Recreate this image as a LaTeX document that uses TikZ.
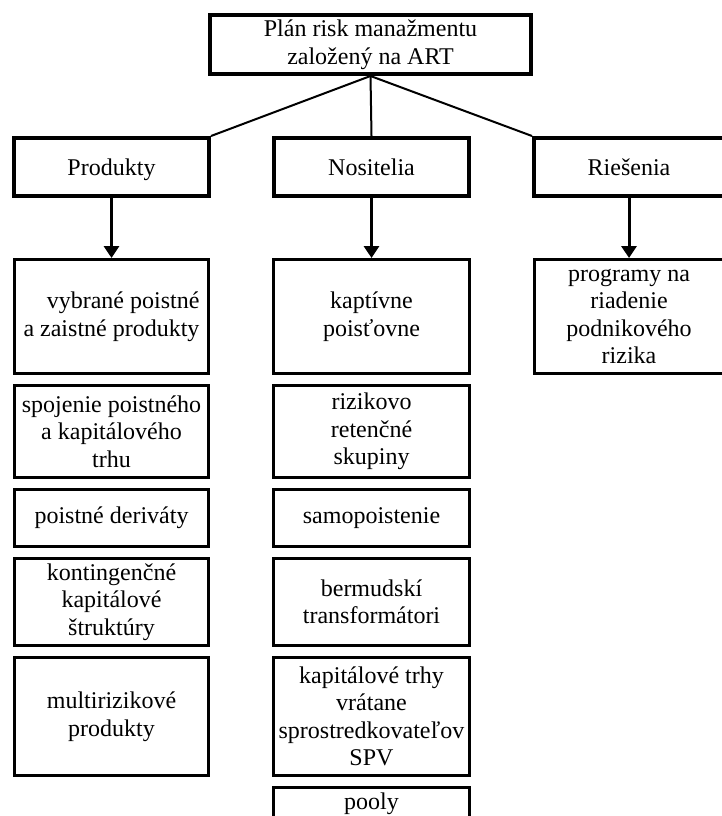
\documentclass[tikz,border=0pt]{standalone}
\usepackage{fontspec}
\setmainfont{Liberation Serif}
\usepackage{tikz}
\usetikzlibrary{positioning,arrows.meta}
\tikzset{headbox/.style={rectangle, draw, line width=4pt, inner sep=0pt, align=center}}
\tikzset{catbox/.style={rectangle, draw, line width=4pt, inner sep=0pt, minimum height=58pt,
  text height=21pt, text depth=5pt, align=center}}
\tikzset{itembox/.style={rectangle, draw, line width=3pt, inner sep=0pt, minimum width=194pt, align=center}}

\begin{document}
\begin{tikzpicture}[x=1pt, y=-1pt, font=\fontsize{24}{27.5}\selectfont,
  >={Triangle[width=15pt,length=12pt]}, node distance=9pt]
  \useasboundingbox (0,0) rectangle (722,816);
  \node[headbox, minimum width=321pt, minimum height=59pt] (plan) at (370.5,44.5)
    {Plán risk manažmentu\\založený na ART};
  \node[catbox, minimum width=195pt] (prod) at (111.5,167) {Produkty};
  \node[catbox, minimum width=195pt] (nos) at (371.5,167) {Nositelia};
  \node[catbox, minimum width=190pt] (ries) at (629,167) {Riešenia};
  \draw[line width=2pt] (plan.south) -- (prod.north east);
  \draw[line width=2pt] (plan.south) -- (nos.north);
  \draw[line width=2pt] (plan.south) -- (ries.north west);

  \node[itembox, minimum height=114pt, anchor=north, align=right] (prod1) at (111.5,258)
    {vybrané poistné\\a zaistné produkty};
  \node[itembox, minimum height=92pt, below=of prod1] (prod2)
    {spojenie poistného\\a kapitálového\\trhu};
  \node[itembox, minimum height=57pt, below=of prod2] (prod3) {poistné deriváty};
  \node[itembox, minimum height=87pt, below=of prod3] (prod4)
    {kontingenčné\\kapitálové\\štruktúry};
  \node[itembox, minimum height=118pt, below=of prod4] (prod5)
    {multirizikové\\produkty};

  \node[itembox, minimum width=196pt, minimum height=114pt, anchor=north] (nos1) at (371.5,258)
    {kaptívne\\poisťovne};
  \node[itembox, minimum width=196pt, minimum height=92pt, below=of nos1] (nos2)
    {rizikovo\\retenčné\\skupiny};
  \node[itembox, minimum width=196pt, minimum height=57pt, below=of nos2] (nos3) {samopoistenie};
  \node[itembox, minimum width=196pt, minimum height=87pt, below=of nos3] (nos4)
    {bermudskí\\transformátori};
  \node[itembox, minimum width=196pt, minimum height=118pt, below=of nos4] (nos5)
    {kapitálové trhy\\vrátane\\sprostredkovateľov\\SPV};
  \node[itembox, minimum width=196pt, minimum height=33pt, below=of nos5] (nos6) {pooly};

  \node[itembox, minimum width=190pt, minimum height=114pt, anchor=north] (ries1) at (629,258)
    {programy na\\riadenie\\podnikového\\rizika};

  \draw[->, line width=3pt] (prod) -- (prod1);
  \draw[->, line width=3pt] (nos) -- (nos1);
  \draw[->, line width=3pt] (ries) -- (ries1);
\end{tikzpicture}
\end{document}
